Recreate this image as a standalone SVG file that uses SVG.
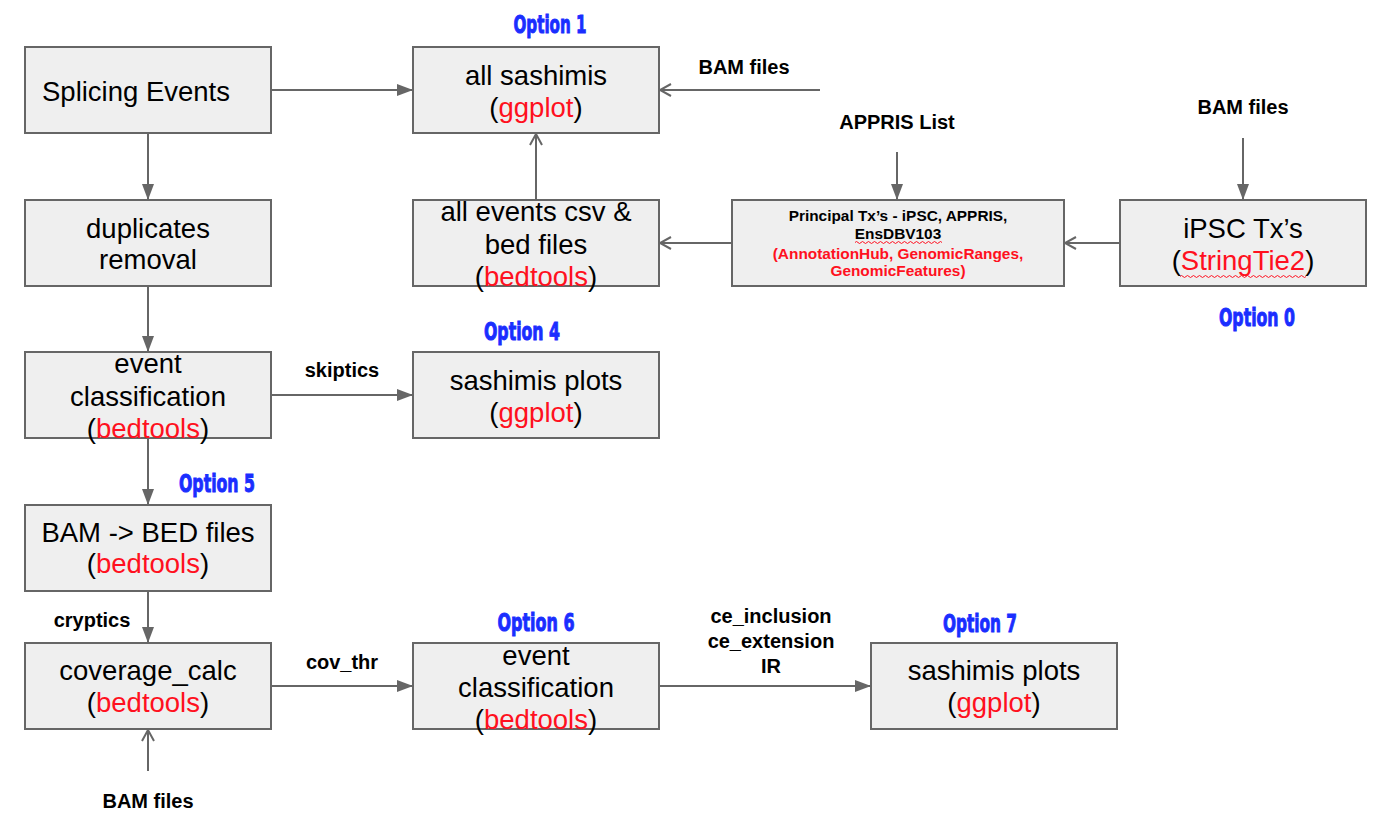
<svg xmlns="http://www.w3.org/2000/svg" width="1384" height="826" viewBox="0 0 1384 826">
<style>
.box{fill:#efefef;stroke:#666;stroke-width:2}
.t{font-family:"Liberation Sans",Arial,sans-serif;font-size:27.5px;fill:#000;text-anchor:middle}
.r{fill:#ff1020}
.lb{font-family:"Liberation Sans",Arial,sans-serif;font-size:20px;font-weight:bold;fill:#000;text-anchor:middle}
.pt{font-family:"Liberation Sans",Arial,sans-serif;font-size:15.4px;font-weight:bold;text-anchor:middle}
.opt{font-family:"Liberation Sans Narrow","DejaVu Sans Condensed","Liberation Sans",sans-serif;font-size:24px;font-weight:bold;fill:#1a2eff;stroke:#1a2eff;stroke-width:0.9;text-anchor:middle}
.ln{stroke:#666;stroke-width:2;fill:none}
.sq{stroke:#ff1020;stroke-width:1;fill:none}
</style>
<defs>
<marker id="fa" markerUnits="userSpaceOnUse" markerWidth="16" markerHeight="12" refX="16" refY="6" orient="auto">
<path d="M0,0 L16,6 L0,12 z" fill="#666"/>
</marker>
<marker id="oa" markerUnits="userSpaceOnUse" markerWidth="14" markerHeight="14" refX="12" refY="7" orient="auto">
<path d="M1,1 L12,7 L1,13" fill="none" stroke="#666" stroke-width="2"/>
</marker>
</defs>
<rect width="1384" height="826" fill="#fff"/>

<g id="connectors">
<line class="ln" x1="271" y1="90" x2="413" y2="90" marker-end="url(#fa)"/>
<line class="ln" x1="820" y1="90" x2="660" y2="90" marker-end="url(#oa)"/>
<line class="ln" x1="536" y1="200" x2="536" y2="134" marker-end="url(#oa)"/>
<line class="ln" x1="897" y1="152" x2="897" y2="200" marker-end="url(#fa)"/>
<line class="ln" x1="1243" y1="138" x2="1243" y2="200" marker-end="url(#fa)"/>
<line class="ln" x1="1120" y1="243" x2="1065" y2="243" marker-end="url(#oa)"/>
<line class="ln" x1="732" y1="243" x2="660" y2="243" marker-end="url(#oa)"/>
<line class="ln" x1="148" y1="133" x2="148" y2="200" marker-end="url(#fa)"/>
<line class="ln" x1="148" y1="286" x2="148" y2="352" marker-end="url(#fa)"/>
<line class="ln" x1="271" y1="395" x2="413" y2="395" marker-end="url(#fa)"/>
<line class="ln" x1="148" y1="438" x2="148" y2="505" marker-end="url(#fa)"/>
<line class="ln" x1="148" y1="591" x2="148" y2="643" marker-end="url(#fa)"/>
<line class="ln" x1="148" y1="771" x2="148" y2="730" marker-end="url(#oa)"/>
<line class="ln" x1="271" y1="686" x2="413" y2="686" marker-end="url(#fa)"/>
<line class="ln" x1="659" y1="686" x2="871" y2="686" marker-end="url(#fa)"/>
</g>

<g id="labels">
<text class="lb" x="744" y="74">BAM files</text>
<text class="lb" x="897" y="129">APPRIS List</text>
<text class="lb" x="1243" y="114">BAM files</text>
<text class="lb" x="342" y="377">skiptics</text>
<text class="lb" x="92" y="627">cryptics</text>
<text class="lb" x="342" y="669">cov_thr</text>
<text class="lb" x="771" y="623">ce_inclusion</text>
<text class="lb" x="771" y="648">ce_extension</text>
<text class="lb" x="771" y="673">IR</text>
<text class="lb" x="148" y="808">BAM files</text>
<text class="opt" x="550" y="33" textLength="73" lengthAdjust="spacingAndGlyphs">Option 1</text>
<text class="opt" x="522" y="340" textLength="76" lengthAdjust="spacingAndGlyphs">Option 4</text>
<text class="opt" x="1257" y="326" textLength="76" lengthAdjust="spacingAndGlyphs">Option 0</text>
<text class="opt" x="217" y="492" textLength="76" lengthAdjust="spacingAndGlyphs">Option 5</text>
<text class="opt" x="536" y="631" textLength="77" lengthAdjust="spacingAndGlyphs">Option 6</text>
<text class="opt" x="980" y="632" textLength="74" lengthAdjust="spacingAndGlyphs">Option 7</text>
</g>

<g id="splicing-events">
<rect class="box" x="25" y="47" width="246" height="86"/>
<text class="t" x="42" y="101" style="text-anchor:start">Splicing Events</text>
</g>
<g id="all-sashimis">
<rect class="box" x="413" y="47" width="246" height="86"/>
<text class="t" x="536" y="85">all sashimis</text>
<text class="t" x="536" y="117">(<tspan class="r">ggplot</tspan>)</text>
</g>
<g id="duplicates-removal">
<rect class="box" x="25" y="200" width="246" height="86"/>
<text class="t" x="148" y="238">duplicates</text>
<text class="t" x="148" y="269">removal</text>
</g>
<g id="all-events">
<rect class="box" x="413" y="200" width="246" height="86"/>
<text class="t" x="536" y="221">all events csv &amp;</text>
<text class="t" x="536" y="254">bed files</text>
<text class="t" x="536" y="286">(<tspan class="r">bedtools</tspan>)</text>
</g>
<g id="principal-tx">
<rect class="box" x="732" y="200" width="332" height="86"/>
<text class="pt" x="898" y="221">Principal Tx’s - iPSC, APPRIS,</text>
<text class="pt" x="898" y="239">EnsDBV103</text>
<path class="sq" d="M855,242.5 q1.5,-2 3,0 t3,0 t3,0 t3,0 t3,0 t3,0 t3,0 t3,0 t3,0 t3,0 t3,0 t3,0 t3,0 t3,0 t3,0 t3,0 t3,0 t3,0 t3,0 t3,0 t3,0 t3,0 t3,0 t3,0 t3,0 t3,0 t3,0 t3,0 t3,0"/>
<text class="pt r" x="898" y="259">(AnnotationHub, GenomicRanges,</text>
<text class="pt r" x="898" y="276">GenomicFeatures)</text>
</g>
<g id="ipsc-tx">
<rect class="box" x="1120" y="200" width="246" height="86"/>
<text class="t" x="1243" y="238">iPSC Tx’s</text>
<text class="t" x="1243" y="270">(<tspan class="r">StringTie2</tspan>)</text>
<path class="sq" d="M1180,276.5 q1.5,-2 3,0 t3,0 t3,0 t3,0 t3,0 t3,0 t3,0 t3,0 t3,0 t3,0 t3,0 t3,0 t3,0 t3,0 t3,0 t3,0 t3,0 t3,0 t3,0 t3,0 t3,0 t3,0 t3,0 t3,0 t3,0 t3,0 t3,0 t3,0 t3,0 t3,0 t3,0 t3,0 t3,0 t3,0 t3,0 t3,0 t3,0 t3,0 t3,0 t3,0 t3,0 t3,0"/>
</g>
<g id="event-classification-1">
<rect class="box" x="25" y="352" width="246" height="86"/>
<text class="t" x="148" y="373">event</text>
<text class="t" x="148" y="406">classification</text>
<text class="t" x="148" y="438">(<tspan class="r">bedtools</tspan>)</text>
</g>
<g id="sashimis-plots-4">
<rect class="box" x="413" y="352" width="246" height="86"/>
<text class="t" x="536" y="390">sashimis plots</text>
<text class="t" x="536" y="422">(<tspan class="r">ggplot</tspan>)</text>
</g>
<g id="bam-bed">
<rect class="box" x="25" y="505" width="246" height="86"/>
<text class="t" x="148" y="542">BAM -&gt; BED files</text>
<text class="t" x="148" y="573">(<tspan class="r">bedtools</tspan>)</text>
</g>
<g id="coverage-calc">
<rect class="box" x="25" y="643" width="246" height="86"/>
<text class="t" x="148" y="680">coverage_calc</text>
<text class="t" x="148" y="712">(<tspan class="r">bedtools</tspan>)</text>
</g>
<g id="event-classification-6">
<rect class="box" x="413" y="643" width="246" height="86"/>
<text class="t" x="536" y="665">event</text>
<text class="t" x="536" y="697">classification</text>
<text class="t" x="536" y="729">(<tspan class="r">bedtools</tspan>)</text>
</g>
<g id="sashimis-plots-7">
<rect class="box" x="871" y="643" width="246" height="86"/>
<text class="t" x="994" y="680">sashimis plots</text>
<text class="t" x="994" y="712">(<tspan class="r">ggplot</tspan>)</text>
</g>
</svg>
